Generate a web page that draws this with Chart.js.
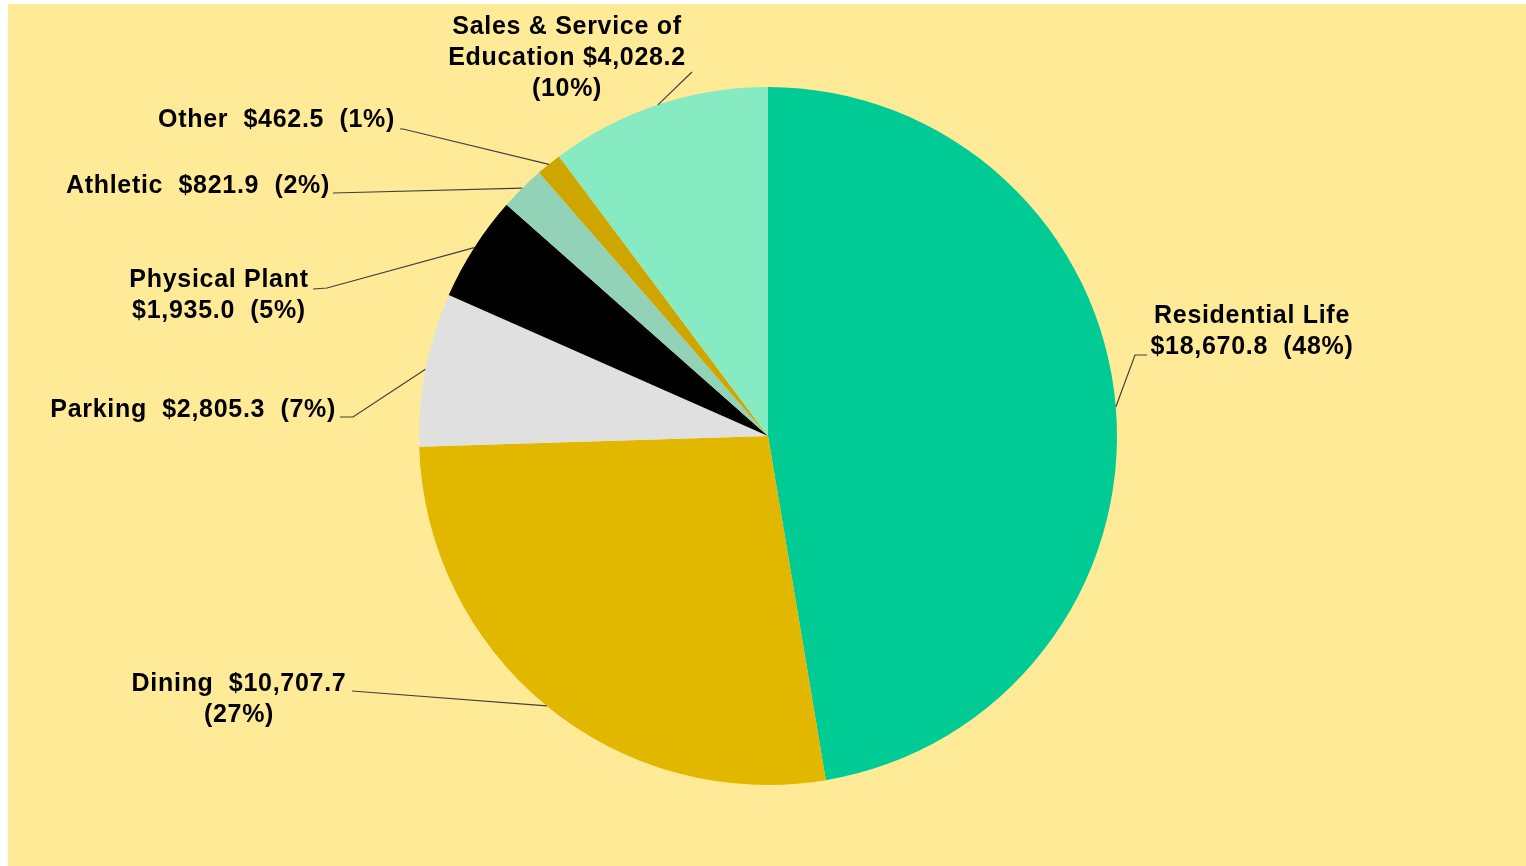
<!DOCTYPE html>
<html>
<head>
<meta charset="utf-8">
<script src="https://cdn.jsdelivr.net/npm/chart.js@4"></script>
<style>
  html, body { margin: 0; padding: 0; background: #ffffff; }
  #wrap { position: absolute; left: 8px; top: 4px; width: 1518px; height: 862px; background: #FFEA98; }
</style>
</head>
<body>
<div id="wrap"><canvas id="pie"></canvas></div>
<script>
// Revenue by source, $ thousands (clockwise from 12 o'clock)
const categories = ['Residential Life', 'Dining', 'Parking', 'Physical Plant', 'Athletic', 'Other', 'Sales & Service of Education'];
const amounts = [18670.8, 10707.7, 2805.3, 1935.0, 821.9, 462.5, 4028.2];
const percents = [48, 27, 7, 5, 2, 1, 10];
const sliceColors = ['#00CB95', '#E1B700', '#E0E0E0', '#000000', '#92D2B6', '#CFA500', '#86EAC3'];

const money = (v) => '$' + v.toLocaleString('en-US', { minimumFractionDigits: 1, maximumFractionDigits: 1 });

// label placement: text position, alignment, leader elbow, and how the text wraps
const labelLayout = [
  { x: 1244, y: 312, align: 'center', elbow: [1127, 351], end: [1139, 351],
    lines: (n, m, p) => [n, `${m}  (${p}%)`] },
  { x: 231, y: 680, align: 'center', elbow: [344, 687], end: [344, 687],
    lines: (n, m, p) => [`${n}  ${m}`, `(${p}%)`] },
  { x: 328, y: 406, align: 'right', elbow: [345, 413], end: [332, 413],
    lines: (n, m, p) => [`${n}  ${m}  (${p}%)`] },
  { x: 211, y: 276, align: 'center', elbow: [319, 284], end: [305, 285],
    lines: (n, m, p) => [n, `${m}  (${p}%)`] },
  { x: 322, y: 182, align: 'right', elbow: [325, 189], end: [325, 189],
    lines: (n, m, p) => [`${n}  ${m}  (${p}%)`] },
  { x: 387, y: 116, align: 'right', elbow: [395, 125], end: [392, 125],
    lines: (n, m, p) => [`${n}  ${m}  (${p}%)`] },
  { x: 559, y: 23, align: 'center', elbow: [684, 68], end: [684, 68],
    lines: (n, m, p) => ['Sales & Service of', `Education ${m}`, `(${p}%)`] },
];

const leaderLabels = {
  id: 'leaderLabels',
  afterDraw(chart) {
    const ctx = chart.ctx;
    const arcs = chart.getDatasetMeta(0).data;
    ctx.save();
    ctx.font = 'bold 25px "Liberation Sans", Arial, sans-serif';
    ctx.letterSpacing = '0.7px';
    ctx.textBaseline = 'middle';
    ctx.fillStyle = '#000000';
    arcs.forEach((arc, i) => {
      const L = labelLayout[i];
      const { x, y, startAngle, endAngle, outerRadius } = arc.getProps(['x', 'y', 'startAngle', 'endAngle', 'outerRadius'], true);
      const mid = (startAngle + endAngle) / 2;
      const ax = x + Math.cos(mid) * outerRadius;
      const ay = y + Math.sin(mid) * outerRadius;
      ctx.strokeStyle = '#404040';
      ctx.lineWidth = 1.2;
      ctx.beginPath();
      ctx.moveTo(ax, ay);
      ctx.lineTo(L.elbow[0], L.elbow[1]);
      ctx.lineTo(L.end[0], L.end[1]);
      ctx.stroke();
      ctx.textAlign = L.align;
      L.lines(categories[i], money(amounts[i]), percents[i]).forEach((t, k) => {
        ctx.fillText(t, L.x, L.y + k * 31);
      });
    });
    ctx.restore();
  }
};

new Chart(document.getElementById('pie'), {
  type: 'pie',
  data: {
    labels: categories,
    datasets: [{
      data: amounts,
      backgroundColor: sliceColors,
      borderWidth: 0,
    }],
  },
  options: {
    responsive: true,
    maintainAspectRatio: false,
    animation: false,
    layout: { padding: { left: 411, right: 409, top: 83, bottom: 81 } },
    plugins: { legend: { display: false }, tooltip: { enabled: false } },
  },
  plugins: [leaderLabels],
});
</script>
</body>
</html>
